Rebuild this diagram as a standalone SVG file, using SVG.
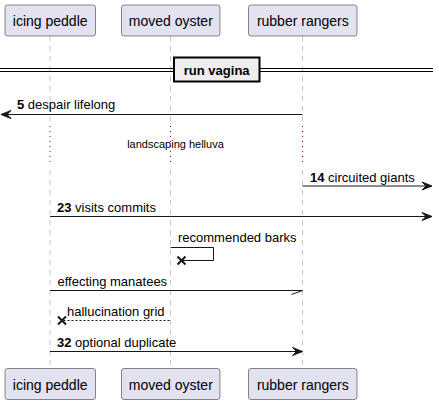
<svg xmlns="http://www.w3.org/2000/svg" width="439" height="404" viewBox="0 0 439 404">
<style>
.part rect{fill:#E2E2F0;stroke:#181818;stroke-width:0.5}
.part text{font-family:"Liberation Sans",Arial,sans-serif;font-size:14px;fill:#000;text-anchor:middle}
.life{stroke:#181818;stroke-opacity:0.5;stroke-width:0.5;stroke-dasharray:5,5;fill:none}
.delay{stroke:#A80036;stroke-width:1;stroke-dasharray:1,4;fill:none}
.msg{stroke:#181818;stroke-width:1;fill:none}
.dash{stroke-dasharray:2,2}
.head{fill:#181818;stroke:#181818;stroke-width:1}
.lbl{font-family:"Liberation Sans",Arial,sans-serif;font-size:13px;fill:#000}
.num{font-weight:bold}
.x{stroke:#181818;stroke-width:2;fill:none}
</style>
<g id="lifelines">
<line class="life" x1="50" y1="36" x2="50" y2="125"/>
<line class="delay" x1="50" y1="126" x2="50" y2="166"/>
<line class="life" x1="50" y1="170" x2="50" y2="368"/>
<line class="life" x1="170.5" y1="36" x2="170.5" y2="125"/>
<line class="delay" x1="170.5" y1="126" x2="170.5" y2="166"/>
<line class="life" x1="170.5" y1="170" x2="170.5" y2="368"/>
<line class="life" x1="302.5" y1="36" x2="302.5" y2="125"/>
<line class="delay" x1="302.5" y1="126" x2="302.5" y2="166"/>
<line class="life" x1="302.5" y1="170" x2="302.5" y2="368"/>
</g>
<g id="icing-peddle" class="part">
<rect x="5" y="5" width="90.5" height="31" rx="2.5"/>
<text x="50.2" y="26">icing peddle</text>
<rect x="5" y="368.5" width="90.5" height="31" rx="2.5"/>
<text x="50.2" y="389.5">icing peddle</text>
</g>
<g id="moved-oyster" class="part">
<rect x="121.5" y="5" width="98.5" height="31" rx="2.5"/>
<text x="170.8" y="26">moved oyster</text>
<rect x="121.5" y="368.5" width="98.5" height="31" rx="2.5"/>
<text x="170.8" y="389.5">moved oyster</text>
</g>
<g id="rubber-rangers" class="part">
<rect x="248.5" y="5" width="108.5" height="31" rx="2.5"/>
<text x="302.8" y="26">rubber rangers</text>
<rect x="248.5" y="368.5" width="108.5" height="31" rx="2.5"/>
<text x="302.8" y="389.5">rubber rangers</text>
</g>
<g id="divider">
<line x1="0" y1="68.5" x2="433" y2="68.5" stroke="#000" stroke-width="1"/>
<line x1="0" y1="71.5" x2="433" y2="71.5" stroke="#000" stroke-width="1"/>
<rect x="174" y="57.5" width="85.5" height="24" fill="#EEEEEE" stroke="#000" stroke-width="2"/>
<text x="216.7" y="74.5" font-family="Liberation Sans,Arial,sans-serif" font-size="13" font-weight="bold" text-anchor="middle">run vagina</text>
</g>
<g id="delay-label">
<text x="175.5" y="147.5" font-family="Liberation Sans,Arial,sans-serif" font-size="11" text-anchor="middle">landscaping helluva</text>
</g>
<g id="connectors">
<line class="msg" x1="302.5" y1="114.5" x2="2" y2="114.5"/>
<polygon class="head" points="1,114.5 11,110.5 7,114.5 11,118.5"/>
<text class="lbl" x="17" y="108.5"><tspan class="num">5</tspan> despair lifelong</text>

<line class="msg" x1="302.5" y1="186" x2="430" y2="186"/>
<polygon class="head" points="432,186 422,182 426,186 422,190"/>
<text class="lbl" x="310" y="182"><tspan class="num">14</tspan> circuited giants</text>

<line class="msg" x1="50" y1="216.5" x2="430" y2="216.5"/>
<polygon class="head" points="432,216.5 422,212.5 426,216.5 422,220.5"/>
<text class="lbl" x="57" y="212"><tspan class="num">23</tspan> visits commits</text>

<polyline class="msg" points="170.5,247.5 213.5,247.5 213.5,260.5 181,260.5"/>
<path class="x" d="M177.5,256.5 L185.5,264.5 M185.5,256.5 L177.5,264.5"/>
<text class="lbl" x="178" y="242">recommended barks</text>

<line class="msg" x1="50" y1="290.5" x2="302.5" y2="290.5"/>
<line class="msg" x1="302.5" y1="290.5" x2="291.5" y2="294.5"/>
<text class="lbl" x="57.5" y="286">effecting manatees</text>

<line class="msg dash" x1="169.5" y1="320.5" x2="63" y2="320.5"/>
<path class="x" d="M58,316.5 L66,324.5 M66,316.5 L58,324.5"/>
<text class="lbl" x="67" y="315.5">hallucination grid</text>

<line class="msg" x1="50" y1="351.5" x2="300" y2="351.5"/>
<polygon class="head" points="302.5,351.5 292.5,347.5 296.5,351.5 292.5,355.5"/>
<text class="lbl" x="57" y="346.5"><tspan class="num">32</tspan> optional duplicate</text>
</g>
</svg>
